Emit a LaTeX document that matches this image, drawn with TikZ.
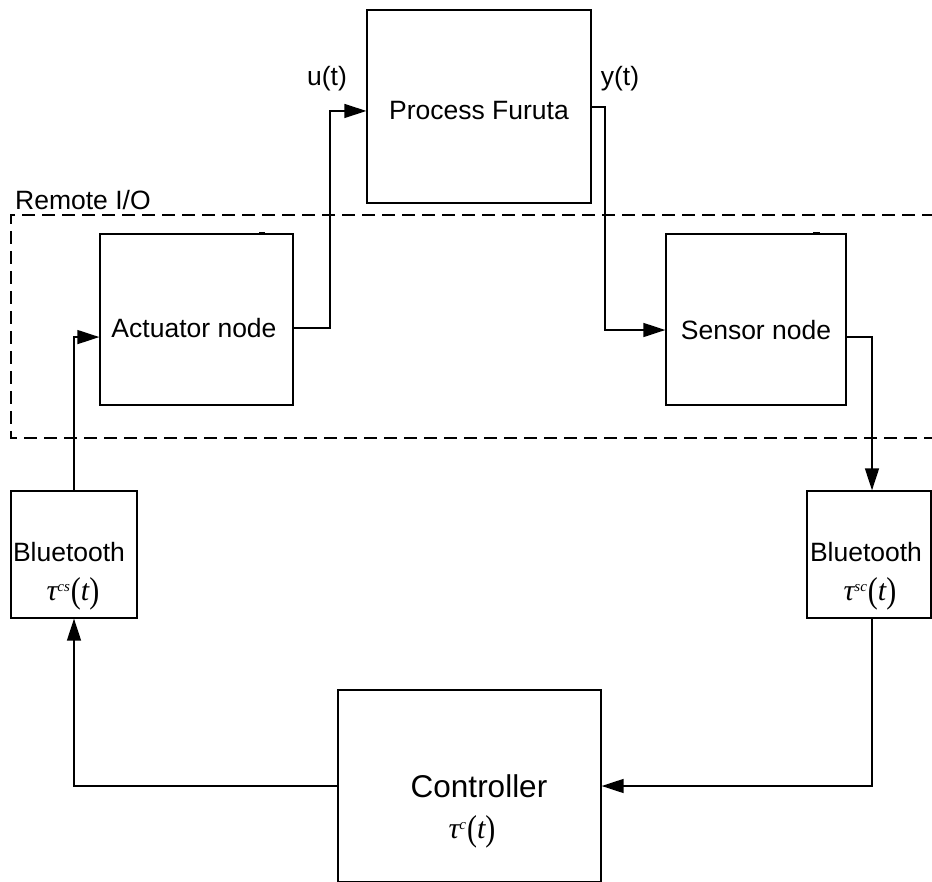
\documentclass[tikz,border=0pt]{standalone}
\usepackage{fontspec}
\setmainfont{Liberation Sans}
\usetikzlibrary{arrows.meta,calc}
\newfontfamily\serifit{Liberation Serif}
\tikzset{
  blk/.style={draw, line width=1.3pt, inner sep=0pt},
  lbl/.style={font=\fontsize{26.5}{30}\selectfont, inner sep=0pt},
  biglbl/.style={font=\fontsize{31.5}{36}\selectfont, inner sep=0pt},
  wire/.style={line width=1.4pt},
  arr/.style={wire, -{Triangle[length=22pt,width=14pt]}},
  remote/.style={line width=1.4pt, dash pattern=on 13pt off 7pt},
  notch/.style={line width=3pt}
}
% delay symbol: tau with a superscript, followed by a tall (t)
\newcommand{\taulbl}[1]{\serifit\itshape \fontsize{30}{34}\selectfont τ\raisebox{9pt}{\fontsize{15}{17}\selectfont #1}\kern1pt\upshape\raisebox{-2pt}{\scalebox{1}[1.2]{(}}\itshape t\upshape\raisebox{-2pt}{\scalebox{1}[1.2]{)}}}
\begin{document}
\begin{tikzpicture}[x=1pt,y=-1pt]
\useasboundingbox (0,0) rectangle (932,882);

% Remote I/O boundary (runs off the right side)
\draw[remote] (935,215) -- (11,215) -- (11,438) -- (935,438);
\node[lbl, anchor=base west] (remotelbl) at (15,210) {Remote I/O};

% blocks
\node[blk, minimum width=224pt, minimum height=193pt] (proc) at (479,106.5) {};
\node[lbl] (proctxt) at (479,111) {Process Furuta};

\node[blk, minimum width=193pt, minimum height=171pt] (act) at (196.5,319.5) {};
\node[lbl] (acttxt) at (194,328) {Actuator node};
\draw[notch] (259,234) -- (265,234);

\node[blk, minimum width=180pt, minimum height=171pt] (sen) at (756,319.5) {};
\node[lbl] (sentxt) at (756,330) {Sensor node};
\draw[notch] (813,234) -- (820,234);

\node[blk, minimum width=126pt, minimum height=127pt] (btl) at (74,554.5) {};
\node[lbl] (btltxt) at (69,552) {Bluetooth};
\node[inner sep=0pt] (btltau) at (73,594) {\taulbl{cs}};

\node[blk, minimum width=124pt, minimum height=127pt] (btr) at (869,554.5) {};
\node[lbl] (btrtxt) at (866,552) {Bluetooth};
\node[inner sep=0pt] (btrtau) at (870,594) {\taulbl{sc}};

\node[blk, minimum width=263pt, minimum height=192pt] (ctrl) at (469.5,786) {};
\node[biglbl] (ctrltxt) at (479,786) {Controller};
\node[inner sep=0pt] (ctrltau) at (472,832) {\taulbl{c}};

% signal labels
\node[lbl, anchor=base] (ulbl) at (327,86) {u(t)};
\node[lbl, anchor=base] (ylbl) at (620,86) {y(t)};

% junction points of the wiring
\coordinate (uout) at ($(act.north east)!0.55!(act.south east)$);
\coordinate (uin)  at ($(proc.north west)!0.523!(proc.south west)$);
\coordinate (yout) at ($(proc.north east)!0.503!(proc.south east)$);
\coordinate (yin)  at ($(sen.north west)!0.561!(sen.south west)$);
\coordinate (sout) at ($(sen.north east)!0.602!(sen.south east)$);
\coordinate (ain)  at ($(act.north west)!0.602!(act.south west)$);

% connectors
\draw[arr] (uout) -- (330,0 |- uout) -- (330,0 |- uin) -- (uin);
\draw[arr] (yout) -- (605,0 |- yout) -- (605,0 |- yin) -- (yin);
\draw[arr] (sout) -| (btr.north -| 872,0);
\draw[arr] (btr.south -| 872,0) |- (ctrl.east);
\draw[arr] (ctrl.west) -| (btl.south);
\draw[arr] (btl.north) |- (ain);
\end{tikzpicture}
\end{document}
